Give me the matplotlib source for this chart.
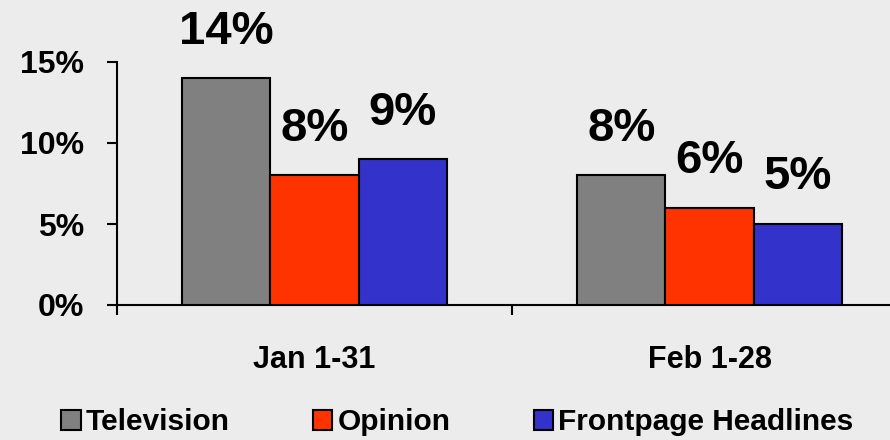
import numpy as np
import matplotlib.pyplot as plt
from matplotlib.patches import Patch

plt.rcParams['font.family'] = ['Liberation Sans', 'DejaVu Sans']
plt.rcParams['font.weight'] = 'bold'

# data
periods = ["Jan 1-31", "Feb 1-28"]
series = ["Television", "Opinion", "Frontpage Headlines"]
television = [14, 8]
opinion = [8, 6]
frontpage = [9, 5]
colors = ["#808080", "#ff3300", "#3333cc"]

fig = plt.figure(figsize=(8.9, 4.4), dpi=100)
fig.patch.set_facecolor("#ececec")
ax = fig.add_axes([117 / 890, 135 / 440, 790 / 890, 243 / 440])
ax.set_facecolor("none")

x = np.arange(len(periods))
w = 0.223
for i, (vals, c) in enumerate(zip([television, opinion, frontpage], colors)):
    pos = x + (i - 1) * w
    ax.bar(pos, vals, width=w, color=c, edgecolor="black", linewidth=1.5, zorder=3)
    for px, v in zip(pos, vals):
        ax.annotate(f"{v}%", (px, v), xytext=(0, 33.5), textcoords="offset points",
                    ha="center", va="center", fontsize=34, fontweight="bold")

ax.set_xlim(-0.5, 1.5)
ax.set_ylim(0, 15)
ax.set_yticks([0, 5, 10, 15])
ax.set_yticklabels(["0%", "5%", "10%", "15%"])
ax.set_xticks(x)
ax.set_xticklabels(periods)
ax.set_xticks([-0.5, 0.5, 1.5], minor=True)
ax.tick_params(axis="x", which="major", length=0, pad=29, labelsize=22)
ax.tick_params(axis="x", which="minor", length=7.5, width=1.5, direction="out")
ax.tick_params(axis="y", length=7.5, width=1.5, direction="out", pad=16, labelsize=23)

for s in ["top", "right"]:
    ax.spines[s].set_visible(False)
for s in ["left", "bottom"]:
    ax.spines[s].set_linewidth(1.5)

handles = [Patch(facecolor=c, edgecolor="black", linewidth=1.5) for c in colors]
fig.legend(handles, series, loc="center", bbox_to_anchor=(0.514, 0.04), ncol=3,
           frameon=False, fontsize=21.5, handlelength=0.64, handleheight=0.64,
           handletextpad=0.17, columnspacing=2.8)

fig.savefig("out.png", dpi=100, facecolor=fig.get_facecolor())
